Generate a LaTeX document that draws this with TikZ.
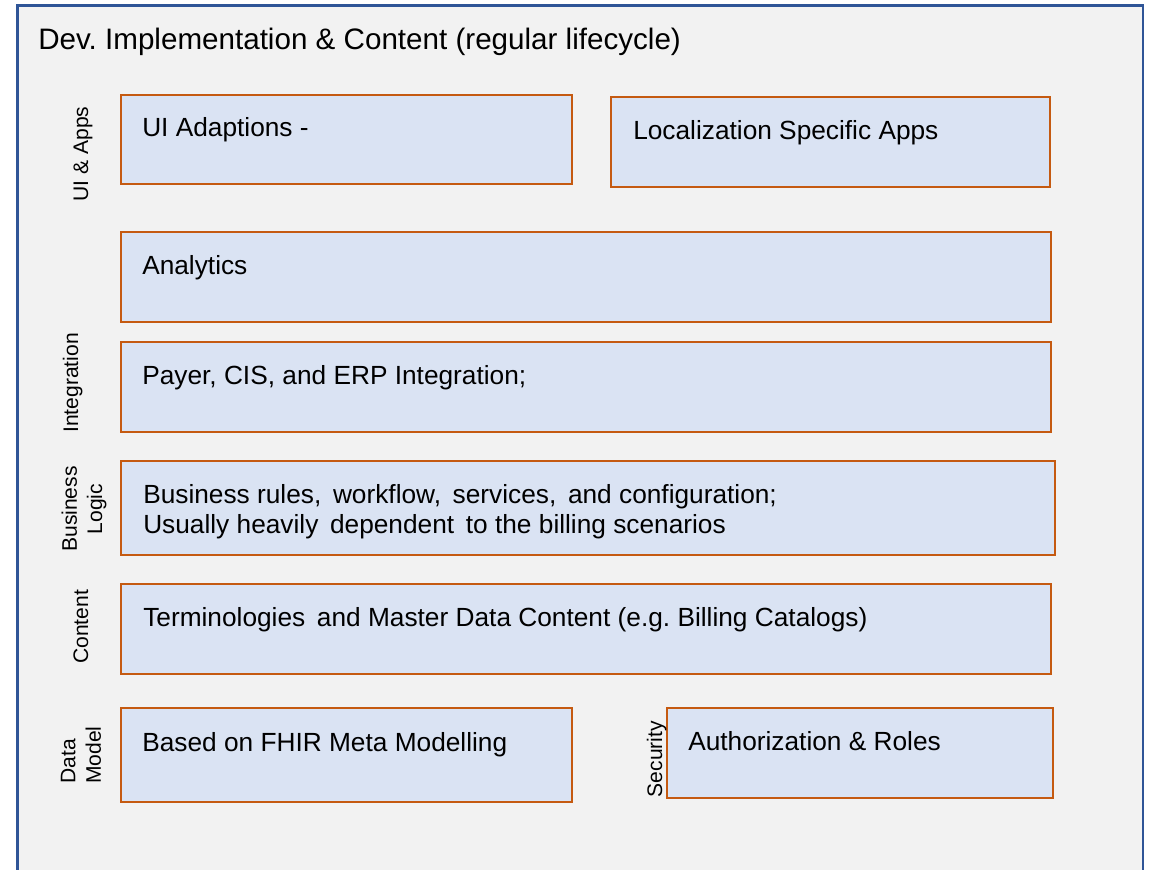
\documentclass[tikz,border=0pt]{standalone}
\usepackage{fontspec}
\setmainfont{Liberation Sans}
\frenchspacing
\definecolor{boxfill}{HTML}{DAE3F3}
\definecolor{boxline}{HTML}{C55A11}
\definecolor{frameline}{HTML}{2F5597}
\definecolor{framefill}{HTML}{F2F2F2}
\begin{document}
\begin{tikzpicture}[x=0.75pt,y=-0.75pt,
  box/.style={draw=boxline,fill=boxfill,line width=2pt,inner sep=0pt,outer sep=0pt,anchor=north west},
  boxtext/.style={anchor=base west,inner sep=0pt,font=\fontsize{19.7}{22.5}\selectfont},
  side/.style={rotate=90,inner sep=0pt,font=\fontsize{15.8}{19}\selectfont},
  titletext/.style={anchor=base west,inner sep=0pt,font=\fontsize{22.2}{26}\selectfont}]
\useasboundingbox (0,0) rectangle (1152,869);
\clip (0,0) rectangle (1152,869);
% outer frame
\fill[framefill] (17.5,5.5) rectangle (1143,880);
\draw[frameline,line width=1.7pt] (17.5,880) -- (17.5,5.5) -- (1143,5.5) -- (1143,880);
\node[titletext] (title) at (38,49.5) {Dev. Implementation \& Content (regular lifecycle)};
% boxes
\node[box,minimum width=338.25pt,minimum height=66.75pt] (ui) at (121,95) {};
\node[box,minimum width=329.25pt,minimum height=67.5pt] (loc) at (611,97) {};
\node[box,minimum width=697.5pt,minimum height=67.5pt] (ana) at (121,232) {};
\node[box,minimum width=697.5pt,minimum height=67.5pt] (pay) at (121,342) {};
\node[box,minimum width=700.5pt,minimum height=70.5pt] (bus) at (121,461) {};
\node[box,minimum width=697.5pt,minimum height=67.5pt] (term) at (121,584) {};
\node[box,minimum width=338.25pt,minimum height=70.5pt] (fhir) at (121,708) {};
\node[box,minimum width=289.5pt,minimum height=67.5pt] (auth) at (667,708) {};
% box texts
\node[boxtext] (uit) at (142,136) {UI Adaptions -};
\node[boxtext] (loct) at (633,139) {Localization Specific Apps};
\node[boxtext] (anat) at (142,274) {Analytics};
\node[boxtext] (payt) at (142,384) {Payer, CIS, and ERP Integration;};
\node[boxtext] (bust1) at (143,503) {Business rules,\, workflow,\, services,\, and configuration;};
\node[boxtext] (bust2) at (143,533) {Usually heavily\, dependent\, to the billing scenarios};
\node[boxtext] (termt) at (143,626) {Terminologies\, and Master Data Content (e.g. Billing Catalogs)};
\node[boxtext] (fhirt) at (142,751) {Based on FHIR Meta Modelling};
\node[boxtext] (autht) at (688,750) {Authorization \& Roles};
% side labels
\node[side,anchor=base] (l-ui) at (88,154) {UI \& Apps};
\node[side,anchor=base] (l-int) at (78,383) {Integration};
\node[side,align=center] (l-bus) at (84,509) {Business\\Logic};
\node[side,anchor=base] (l-con) at (88,627) {Content};
\node[side,align=left] (l-dm) at (81,755) {Data\\Model};
\node[side,anchor=base] (l-sec) at (662,759) {Security};
\end{tikzpicture}
\end{document}
